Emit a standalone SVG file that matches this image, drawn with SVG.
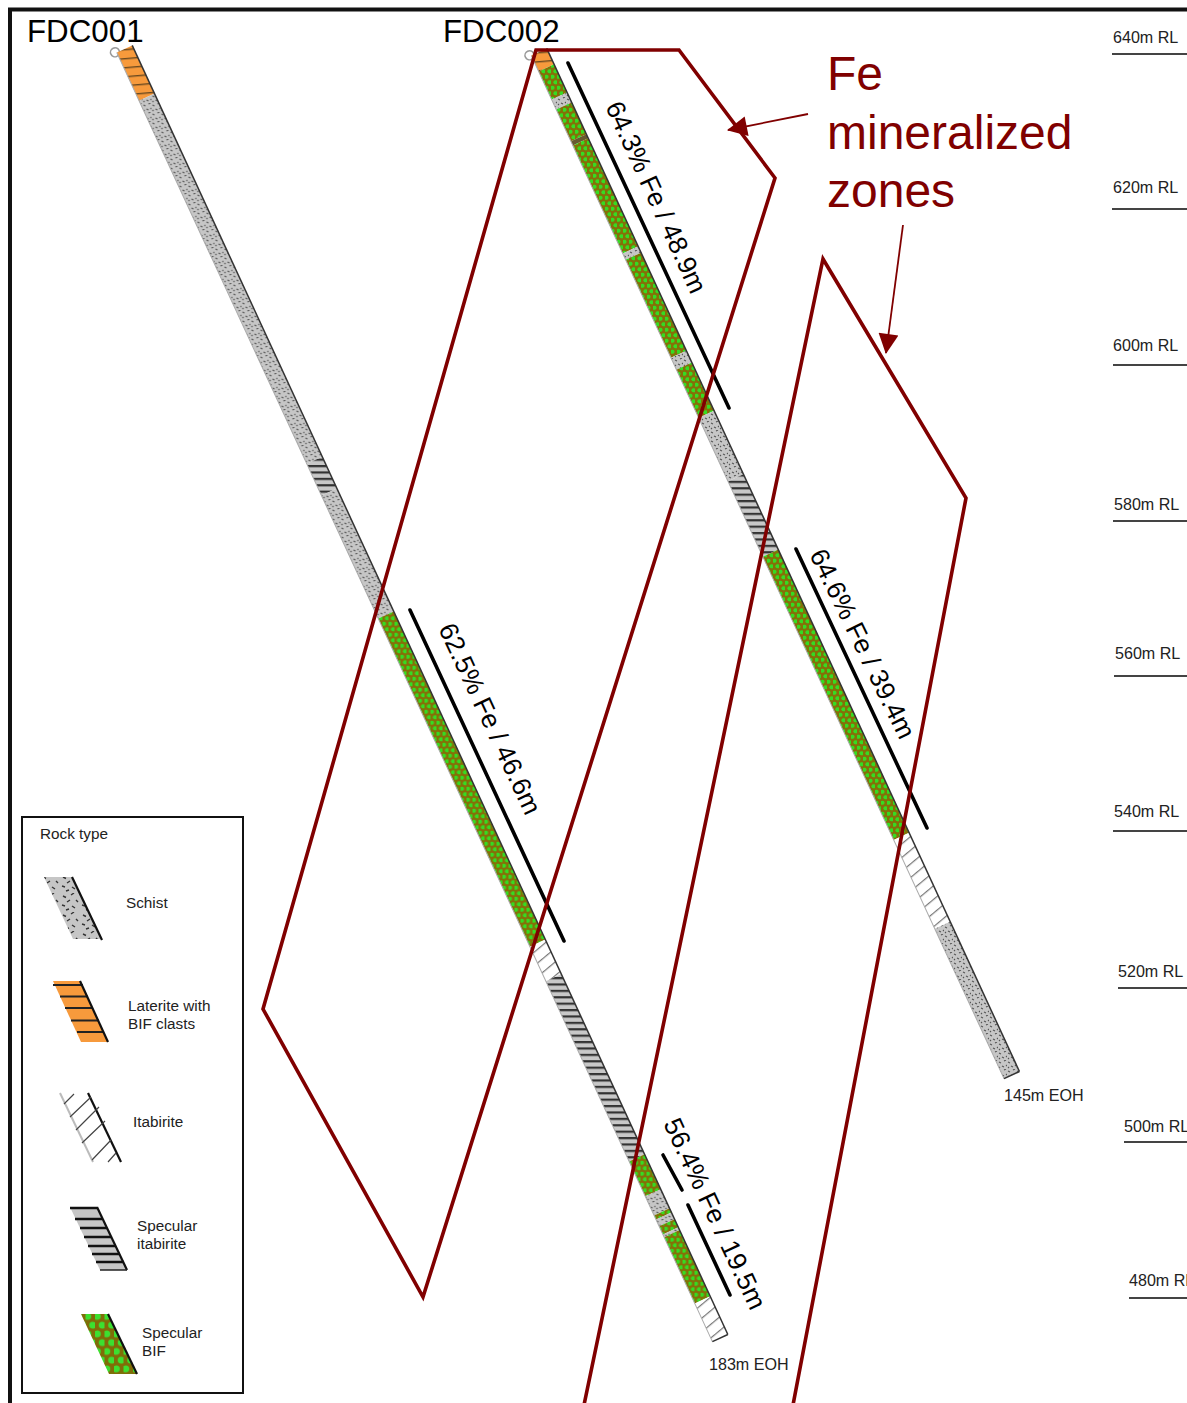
<svg xmlns="http://www.w3.org/2000/svg" width="1187" height="1403" viewBox="0 0 1187 1403">
<style>
text{font-family:"Liberation Sans",Arial,sans-serif;fill:#222}
.rl{font-size:16.1px}
.lg{font-size:15.3px}
.ttl{font-size:31.3px;fill:#000}
.big{font-size:48px;fill:#800000}
.gr{font-size:26.300px;fill:#000}
.rule{stroke:#444;stroke-width:2}
.bar{stroke:#000;stroke-width:3.6;stroke-linecap:round}
.zone{fill:none;stroke:#800000;stroke-width:3.6;stroke-linejoin:miter}
.conn{stroke:#800000;stroke-width:1.8;fill:none}
.edgeR{stroke:#333;stroke-width:1.5}
.edgeL{stroke:#aaa;stroke-width:1}
.sw{stroke:#111;stroke-width:2.2}
.hatch{stroke:#222;stroke-width:2}
.thin{stroke:#444;stroke-width:1.2}
.hook{fill:none;stroke:#999;stroke-width:1.5}
</style>
<defs>
<marker id="head" viewBox="0 0 10 10" refX="9.5" refY="5" markerWidth="23" markerHeight="20" markerUnits="userSpaceOnUse" orient="auto"><path d="M0 0L10 5L0 10z" fill="#800000"/></marker>
<pattern id="hSchist" width="9" height="9" patternUnits="userSpaceOnUse" patternTransform="rotate(24.8)">
<rect width="9" height="9" fill="#c6c6c6"/><path d="M1 2l2 1M6 1l2-1M4 6l2 1M8 5l1 1M1 8l1-1" stroke="#555" stroke-width="1.1"/>
</pattern>
<pattern id="hLat" width="10" height="9" patternUnits="userSpaceOnUse" patternTransform="rotate(20)">
<rect width="10" height="9" fill="#f79a3c"/><rect y="0" width="10" height="1.4" fill="#6b4a20"/>
</pattern>
<pattern id="hSpec" width="10" height="6.4" patternUnits="userSpaceOnUse" patternTransform="rotate(24.8)">
<rect width="10" height="6.4" fill="#c8c8c8"/><rect y="0" width="10" height="2.2" fill="#333"/>
</pattern>
<pattern id="hItab" width="10" height="10.5" patternUnits="userSpaceOnUse" patternTransform="rotate(-15)">
<rect width="10" height="10.5" fill="#fff"/><rect y="0" width="10" height="1.2" fill="#777"/>
</pattern>
<pattern id="hGreen" width="6" height="11" patternUnits="userSpaceOnUse" patternTransform="rotate(24.8)">
<rect width="6" height="11" fill="#847008"/><circle cx="1.500" cy="2.750" r="2.100" fill="#35dc22"/><circle cx="4.500" cy="8.250" r="2.100" fill="#35dc22"/>
</pattern>
<pattern id="lSchist" width="20" height="19" patternUnits="userSpaceOnUse">
<rect width="20" height="19" fill="#c6c6c6"/><path d="M3 3l3 1.500M11 2l3-2M16 7l2 2M7 9l3-2M2 12l3 1M12 13l3 2M6 17l3-1" stroke="#333" stroke-width="1.400"/>
</pattern>
<pattern id="lGreen" width="9.500" height="17.500" patternUnits="userSpaceOnUse">
<rect width="9.500" height="17.500" fill="#806c08"/><circle cx="2.400" cy="4" r="3.400" fill="#3ce030"/><circle cx="7.100" cy="12.750" r="3.400" fill="#3ce030"/>
</pattern>
</defs>
<rect width="1187" height="1403" fill="#fff"/>
<g id="frame"><path d="M10 1403V9.500H1187" fill="none" stroke="#111" stroke-width="4"/></g>

<g id="hole-FDC001" transform="translate(124.500 49) rotate(-24.8)">
<circle class="hook" cx="-10" cy="-1" r="4.500"/>
<rect x="-8.500" y="0" width="17" height="53" fill="url(#hLat)"/>
<rect x="-8.500" y="53" width="17" height="400" fill="url(#hSchist)"/>
<rect x="-8.500" y="453" width="17" height="35" fill="url(#hSpec)"/>
<rect x="-8.500" y="488" width="17" height="135.500" fill="url(#hSchist)"/>
<rect x="-8.500" y="623.500" width="17" height="361.500" fill="url(#hGreen)"/>
<rect x="-8.500" y="985" width="17" height="38" fill="url(#hItab)"/>
<rect x="-8.500" y="1023" width="17" height="198.500" fill="url(#hSpec)"/>
<rect x="-8.500" y="1221.500" width="17" height="38.500" fill="url(#hGreen)"/>
<rect x="-8.500" y="1260" width="17" height="21" fill="url(#hSchist)"/>
<rect x="-8.500" y="1281" width="17" height="4.500" fill="url(#hGreen)"/>
<rect x="-8.500" y="1285.500" width="17" height="7.500" fill="url(#hSchist)"/>
<rect x="-8.500" y="1293" width="17" height="9" fill="url(#hGreen)"/>
<rect x="-8.500" y="1302" width="17" height="3" fill="url(#hSchist)"/>
<rect x="-8.500" y="1305" width="17" height="73" fill="url(#hGreen)"/>
<rect x="-8.500" y="1378" width="17" height="42" fill="url(#hItab)"/>
<line class="edgeL" x1="-8.500" y1="0" x2="-8.500" y2="1420"/>
<line class="edgeR" x1="8.500" y1="0" x2="8.500" y2="1420"/>
<line class="edgeR" x1="-8.500" y1="1420" x2="8.500" y2="1420"/>
</g>

<g id="hole-FDC002" transform="translate(539 52) rotate(-24.8)">
<circle class="hook" cx="-10" cy="-1" r="4.500"/>
<rect x="-8.500" y="0" width="17" height="17.500" fill="url(#hLat)"/>
<rect x="-8.500" y="17.500" width="17" height="31" fill="url(#hGreen)"/>
<rect x="-8.500" y="48.500" width="17" height="11" fill="url(#hSchist)"/>
<rect x="-8.500" y="59.500" width="17" height="35" fill="url(#hGreen)"/>
<rect x="-8.500" y="94.500" width="17" height="4.500" fill="#665a30"/>
<rect x="-8.500" y="99" width="17" height="119" fill="url(#hGreen)"/>
<rect x="-8.500" y="218" width="17" height="7" fill="url(#hSchist)"/>
<rect x="-8.500" y="225" width="17" height="108" fill="url(#hGreen)"/>
<rect x="-8.500" y="333" width="17" height="13" fill="url(#hSchist)"/>
<rect x="-8.500" y="346" width="17" height="53" fill="url(#hGreen)"/>
<rect x="-8.500" y="399" width="17" height="70" fill="url(#hSchist)"/>
<rect x="-8.500" y="469" width="17" height="83" fill="url(#hSpec)"/>
<rect x="-8.500" y="552" width="17" height="312" fill="url(#hGreen)"/>
<rect x="-8.500" y="864" width="17" height="98" fill="url(#hItab)"/>
<rect x="-8.500" y="962" width="17" height="165" fill="url(#hSchist)"/>
<line class="edgeL" x1="-8.500" y1="0" x2="-8.500" y2="1127"/>
<line class="edgeR" x1="8.500" y1="0" x2="8.500" y2="1127"/>
<line class="edgeR" x1="-8.500" y1="1127" x2="8.500" y2="1127"/>
</g>

<g id="intercepts">
<line class="bar" x1="568" y1="63" x2="729" y2="408"/>
<line class="bar" x1="796" y1="549" x2="927" y2="828"/>
<line class="bar" x1="410" y1="610" x2="564" y2="941"/>
<line class="bar" x1="663" y1="1155" x2="682" y2="1190"/>
<line class="bar" x1="688" y1="1205" x2="730" y2="1295"/>
</g>

<g id="zone-1"><path class="zone" d="M536 50H679L775 178L423 1297L263 1009Z"/></g>
<g id="zone-2"><path class="zone" d="M584 1405L823 259L966 498L793 1405"/></g>

<g id="connectors">
<line class="conn" x1="808" y1="114" x2="728" y2="130" marker-end="url(#head)"/>
<line class="conn" x1="903" y1="225" x2="886" y2="353" marker-end="url(#head)"/>
</g>

<g id="labels">
<text class="ttl" x="27" y="42">FDC001</text>
<text class="ttl" x="443" y="42">FDC002</text>
<text class="big" x="827" y="90">Fe</text>
<text class="big" x="827" y="149">mineralized</text>
<text class="big" x="827" y="206.500">zones</text>
<text class="gr" transform="translate(605 106.500) rotate(65.500)">64.3% Fe / 48.9m</text>
<text class="gr" transform="translate(809 554.500) rotate(64)">64.6% Fe / 39.4m</text>
<text class="gr" transform="translate(438 628.500) rotate(65)">62.5% Fe / 46.6m</text>
<text class="gr" transform="translate(663 1123.500) rotate(65)">56.4% Fe / 19.5m</text>
<text class="rl" x="1004" y="1101">145m EOH</text>
<text class="rl" x="709" y="1370">183m EOH</text>
</g>

<g id="elevations">
<text class="rl" x="1113" y="43">640m RL</text><line class="rule" x1="1112" y1="54" x2="1187" y2="54"/>
<text class="rl" x="1113" y="193">620m RL</text><line class="rule" x1="1112" y1="209" x2="1187" y2="209"/>
<text class="rl" x="1113" y="351">600m RL</text><line class="rule" x1="1113" y1="365" x2="1187" y2="365"/>
<text class="rl" x="1114" y="510">580m RL</text><line class="rule" x1="1113" y1="521" x2="1187" y2="521"/>
<text class="rl" x="1115" y="659">560m RL</text><line class="rule" x1="1114" y1="676" x2="1187" y2="676"/>
<text class="rl" x="1114" y="817">540m RL</text><line class="rule" x1="1113" y1="831" x2="1187" y2="831"/>
<text class="rl" x="1118" y="977">520m RL</text><line class="rule" x1="1118" y1="988" x2="1187" y2="988"/>
<text class="rl" x="1124" y="1132">500m RL</text><line class="rule" x1="1124" y1="1142" x2="1187" y2="1142"/>
<text class="rl" x="1129" y="1286">480m RL</text><line class="rule" x1="1129" y1="1298" x2="1187" y2="1298"/>
</g>

<g id="legend">
<rect x="22" y="817" width="221" height="576" fill="#fff" stroke="#111" stroke-width="2"/>
<text class="lg" x="40" y="839">Rock type</text>
<g id="legend-schist">
<path d="M44 877H72L102 939H73Z" fill="url(#lSchist)"/><line class="sw" x1="72" y1="877" x2="102" y2="940"/>
<text class="lg" x="126" y="908">Schist</text>
</g>
<g id="legend-laterite">
<path d="M53 981H80L108 1042H81Z" fill="#f79a3c"/>
<path class="hatch" d="M53 985H83M60 996.500H88M65 1008H93M71 1020.500H99M77 1032H104"/>
<line class="sw" x1="80" y1="981" x2="108" y2="1042"/>
<text class="lg" x="128" y="1011">Laterite with</text><text class="lg" x="128" y="1029">BIF clasts</text>
</g>
<g id="legend-itabirite">
<line x1="60" y1="1093" x2="93" y2="1162" stroke="#bbb" stroke-width="2"/>
<line class="sw" x1="88" y1="1093" x2="121" y2="1162"/>
<path class="thin" d="M64 1104L74 1094M70 1117L91 1097M76 1130L99 1107M82 1143L105 1121M92 1160L111 1140M108 1162L116 1153"/>
<text class="lg" x="133" y="1127">Itabirite</text>
</g>
<g id="legend-specular-itabirite">
<path d="M70 1207H97L127 1270H100Z" fill="#c6c6c6"/>
<path d="M70 1208H97M75 1219H102M80 1228H107M84 1237H111M88 1246H116M92 1254H120M96 1262H124" stroke="#111" stroke-width="2.500"/>
<line class="sw" x1="97" y1="1207" x2="127" y2="1270"/>
<line x1="100" y1="1270" x2="127" y2="1270" stroke="#222" stroke-width="1.500"/>
<text class="lg" x="137" y="1231">Specular</text><text class="lg" x="137" y="1249">itabirite</text>
</g>
<g id="legend-specular-bif">
<path d="M81 1314H108L137 1374H109Z" fill="url(#lGreen)"/><line class="sw" x1="108" y1="1314" x2="137" y2="1374"/>
<text class="lg" x="142" y="1338">Specular</text><text class="lg" x="142" y="1356">BIF</text>
</g>
</g>
</svg>
